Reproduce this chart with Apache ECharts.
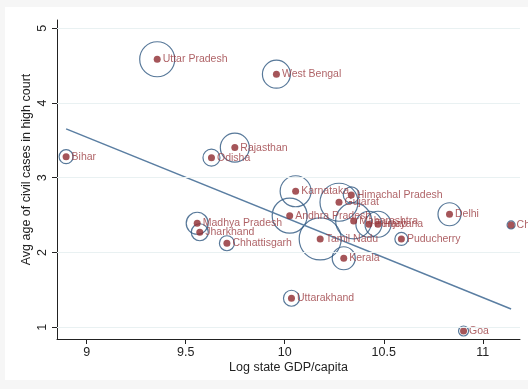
<!DOCTYPE html>
<html>
<head>
<meta charset="utf-8">
<script src="https://cdn.jsdelivr.net/npm/echarts@6/dist/echarts.min.js"></script>
<style>html,body{margin:0;padding:0;background:#f6f6f6}#c{width:528px;height:389px}</style>
</head>
<body>
<div id="c"></div>
<script>
const states = ["Uttar Pradesh","West Bengal","Bihar","Odisha","Rajasthan","Madhya Pradesh","Jharkhand","Chhattisgarh","Andhra Pradesh","Tamil Nadu","Kerala","Uttarakhand","Karnataka","Himachal Pradesh","Gujarat","Maharashtra","Punjab","Haryana","Delhi","Puducherry","Chandigarh","Goa"];
const logGdp = [9.356,9.958,8.896,9.630,9.748,9.558,9.571,9.708,10.025,10.179,10.298,10.034,10.055,10.336,10.274,10.348,10.425,10.471,10.832,10.589,11.143,10.903];
const avgAge = [4.585,4.385,3.282,3.269,3.403,2.391,2.271,2.124,2.493,2.181,1.923,1.388,2.819,2.770,2.672,2.422,2.378,2.378,2.512,2.181,2.369,0.950];
const weight = [35,28,14,17,29,22,17,15,35,42,23,16,31,16,38,36,26,26,23,13,8,10];
const fitX = [8.896, 11.143];
const fitY = [3.653, 1.245];
const xTicks = [9, 9.5, 10, 10.5, 11];
const yTicks = [1, 2, 3, 4, 5];

const txt = '#222222';
const font = 'Liberation Sans, Arial, sans-serif';
const chart = echarts.init(document.getElementById('c'));
chart.setOption({
  backgroundColor: '#f6f6f6',
  animation: false,
  graphic: [{type:'rect', z:-100, shape:{x:5,y:7,width:523,height:373}, style:{fill:'#ffffff'}}],
  grid: {left:57, top:20, right:8, bottom:50},
  xAxis: {
    type:'value', min:8.85, max:11.188,
    axisLine:{show:true, onZero:false, lineStyle:{color:'#222', width:1}},
    axisTick:{show:true, customValues:xTicks, length:5, lineStyle:{color:'#222'}},
    axisLabel:{customValues:xTicks, color:txt, fontSize:12.5, fontFamily:font, margin:7},
    splitLine:{show:false},
    name:'Log state GDP/capita', nameLocation:'middle', nameGap:22, nameMoveOverlap:false,
    nameTextStyle:{color:txt, fontSize:12.5, fontFamily:font}
  },
  yAxis: {
    type:'value', min:0.843, max:5.11,
    axisLine:{show:true, onZero:false, lineStyle:{color:'#222', width:1}},
    axisTick:{show:true, customValues:yTicks, length:5, lineStyle:{color:'#222'}},
    axisLabel:{customValues:yTicks, rotate:90, color:txt, fontSize:12.5, fontFamily:font, margin:8},
    splitLine:{show:false},
    name:'Avg age of civil cases in high court', nameLocation:'middle', nameGap:24, nameMoveOverlap:false,
    nameTextStyle:{color:txt, fontSize:12.5, fontFamily:font, padding:[0,0,0,20]}
  },
  series: [
    {
      type:'scatter', z:2, silent:true,
      data: logGdp.map((x,i)=>({value:[x, avgAge[i]], symbolSize: weight[i]})),
      itemStyle:{color:'rgba(0,0,0,0)', borderColor:'#2d5680', borderWidth:1.2},
      markLine:{silent:true, symbol:'none', label:{show:false},
        lineStyle:{color:'#e9f1f2', width:1, type:'solid'},
        data: yTicks.map(v=>({yAxis:v}))}
    },
    {
      type:'line', z:3, silent:true, symbol:'none',
      data: fitX.map((x,i)=>[x, fitY[i]]),
      lineStyle:{color:'#5a7ea2', width:1.5}
    },
    {
      type:'scatter', z:4, silent:true, symbolSize:7,
      data: logGdp.map((x,i)=>({value:[x, avgAge[i]], name: states[i]})),
      itemStyle:{color:'#8e2a30'},
      label:{show:true, position:'right', distance:2, formatter:'{b}', color:'#9a3a3e', fontSize:10.5, fontFamily:font}
    }
  ]
});
</script>
</body>
</html>
